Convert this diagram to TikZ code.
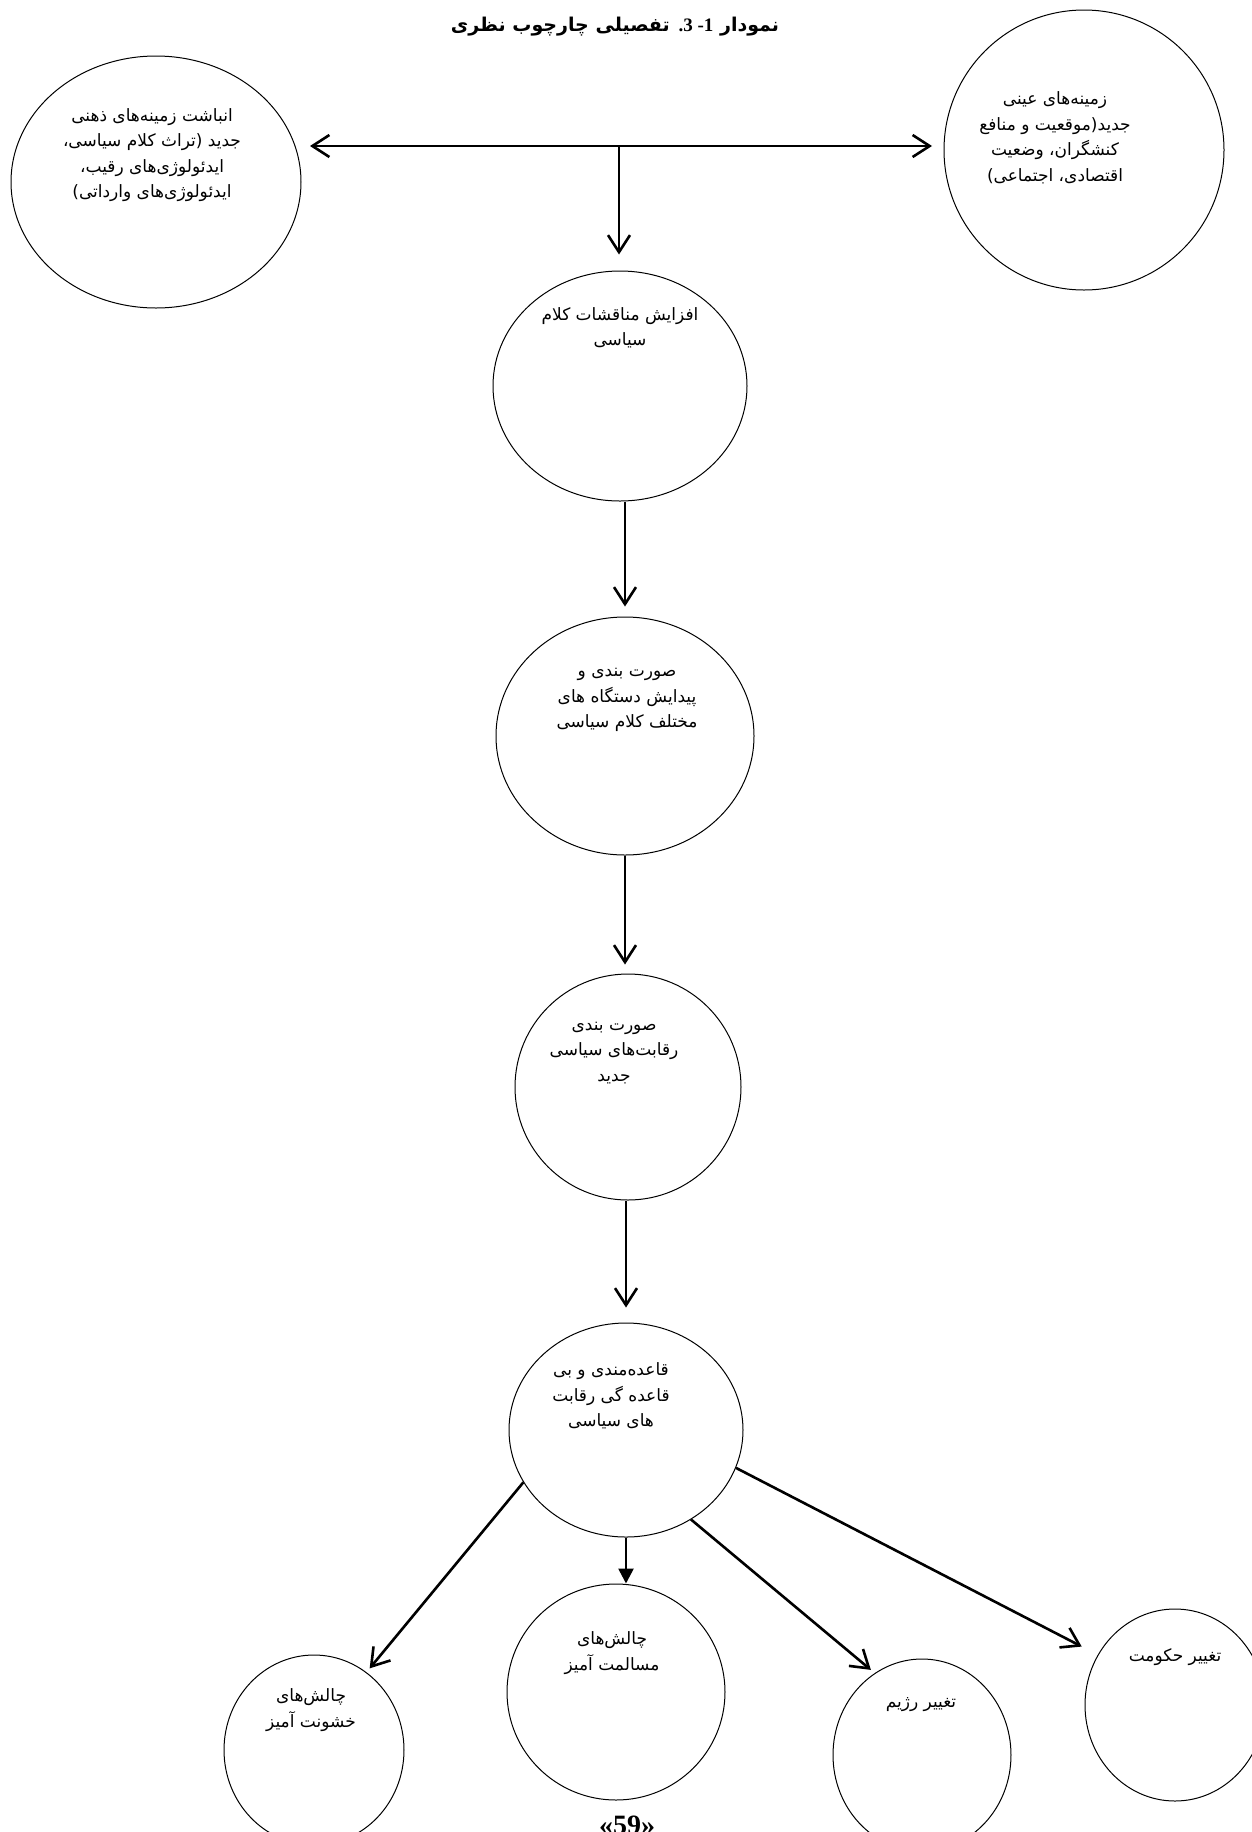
\documentclass[tikz,border=0pt]{standalone}
\usepackage{fontspec}
\usetikzlibrary{arrows.meta,shapes.geometric,calc}
\newfontfamily\fa[Script=Arabic]{DejaVu Sans}
\newfontfamily\tnr{Liberation Serif}
\TeXXeTstate=1
\newcommand\RL[1]{\beginR #1\endR}
\begin{document}
\begin{tikzpicture}[x=1pt,y=-1pt,
  circ/.style={draw, ellipse, line width=1pt, inner sep=0pt},
  txt/.style={font=\fa\fontsize{17}{25.5}\selectfont, align=center, inner sep=0pt},
  arr/.style={line width=2.6pt, -{Straight Barb[length=17pt,width=22pt]}},
  darr/.style={line width=2.6pt, {Straight Barb[length=17pt,width=22pt]}-{Straight Barb[length=17pt,width=22pt]}},
  tarr/.style={line width=2.6pt, -{Triangle[length=15pt,width=15pt]}}]
\useasboundingbox (0,0) rectangle (1252,1832);
\fill[white] (0,0) rectangle (1252,1832);

% title
\node[font=\fa\bfseries\fontsize{19}{24}\selectfont, inner sep=0pt] (title) at (615,27)
  {\RL{نمودار {\tnr\bfseries 1\kern0pt-\ 3\kern0pt.} تفصیلی چارچوب نظری}};

% circles
\node[circ, minimum width=290pt, minimum height=252pt] (A) at (156,182) {};
\node[circ, minimum width=280pt, minimum height=280pt] (B) at (1084,150) {};
\node[circ, minimum width=254pt, minimum height=230pt] (C) at (620,386) {};
\node[circ, minimum width=258pt, minimum height=238pt] (D) at (625,736) {};
\node[circ, minimum width=226pt, minimum height=226pt] (E) at (628,1087) {};
\node[circ, minimum width=234pt, minimum height=214pt] (F) at (626,1430) {};
\node[circ, minimum width=180pt, minimum height=190pt] (G) at (314,1750) {};
\node[circ, minimum width=218pt, minimum height=216pt] (H) at (616,1692) {};
\node[circ, minimum width=178pt, minimum height=192pt] (I) at (922,1755) {};
\node[circ, minimum width=180pt, minimum height=192pt] (J) at (1175,1705) {};

% texts
\node[txt] (At) at (152,155) {\RL{انباشت زمینه‌های ذهنی}\\\RL{جدید (تراث کلام سیاسی،}\\\RL{ایدئولوژی‌های رقیب،}\\\RL{ایدئولوژی‌های وارداتی)}};
\node[txt] (Bt) at (1055,138) {\RL{زمینه‌های عینی}\\\RL{جدید(موقعیت و منافع}\\\RL{کنشگران، وضعیت}\\\RL{اقتصادی، اجتماعی)}};
\node[txt] (Ct) at (620,328) {\RL{افزایش مناقشات کلام}\\\RL{سیاسی}};
\node[txt] (Dt) at (627,700) {\RL{صورت بندی و}\\\RL{پیدایش دستگاه های}\\\RL{مختلف کلام سیاسی}};
\node[txt] (Et) at (614,1053) {\RL{صورت بندی}\\\RL{رقابت‌های سیاسی}\\\RL{جدید}};
\node[txt] (Ft) at (611,1396) {\RL{قاعده‌مندی و بی}\\\RL{قاعده گی رقابت}\\\RL{های سیاسی}};
\node[txt] (Gt) at (311,1710) {\RL{چالش‌های}\\\RL{خشونت آمیز}};
\node[txt] (Ht) at (612,1653) {\RL{چالش‌های}\\\RL{مسالمت آمیز}};
\node[txt] (It) at (921,1705) {\RL{تغییر رژیم}};
\node[txt] (Jt) at (1175,1657) {\RL{تغییر حکومت}};

% page number
\node[font=\tnr\bfseries\fontsize{28}{32}\selectfont, inner sep=0pt, anchor=base] (pg) at (627,1834) {«59»};

% connectors
\coordinate (hl) at (310,146);
\coordinate (hr) at (932,146);
\coordinate (hm) at (619,146);
\draw[darr] (hl) -- (hr);
\draw[arr, shorten >=16pt] (hm) -- (hm |- C.north);
\draw[arr, shorten >=10pt] (D.north |- C.south) -- (D.north);
\draw[arr, shorten >=9pt] (D.south) -- (D.south |- E.north);
\draw[arr, shorten >=15pt] (F.north |- E.south) -- (F.north);
\draw[tarr] (F.south) -- (F.south |- H.north);
\draw[arr, shorten >=5pt] (F.207) -- (G.56);
\draw[arr, shorten >=5pt] (F.306) -- (I.120);
\draw[arr, shorten >=18pt] (F.341) -- (J.147);
\end{tikzpicture}
\end{document}
